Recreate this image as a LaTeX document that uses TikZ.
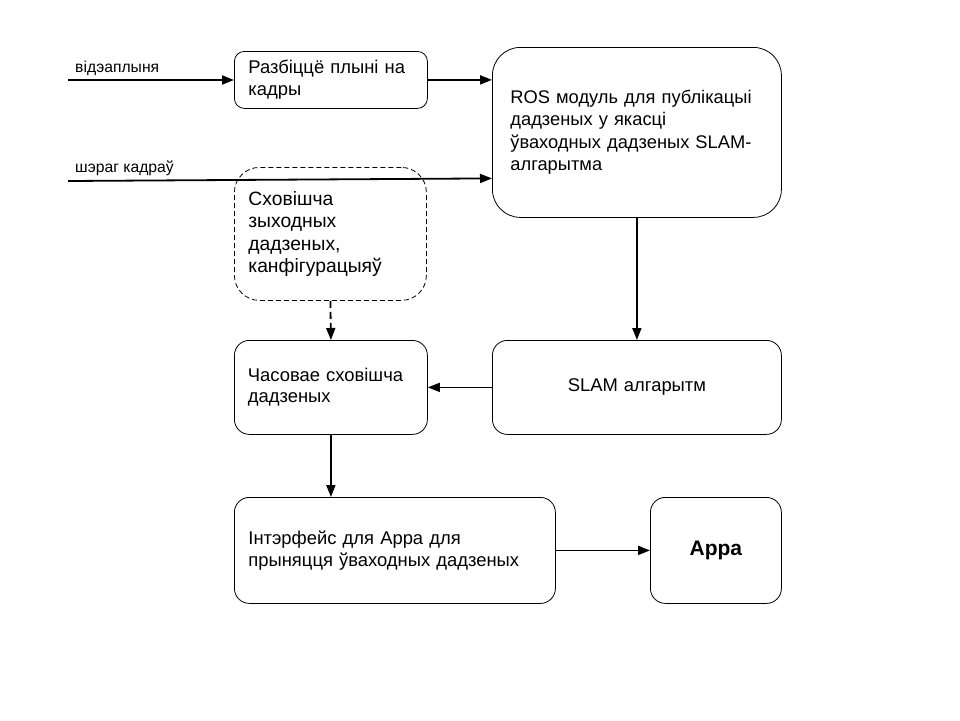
\documentclass[tikz,border=0pt]{standalone}
\usepackage{fontspec}
\setmainfont{Liberation Sans}
\usetikzlibrary{arrows.meta,calc}
\begin{document}
\begin{tikzpicture}[x=1pt,y=-1pt,
  box/.style={draw, line width=0.8pt, anchor=north west, align=left, inner xsep=14pt,
    font=\fontsize{18.4}{21.5}\selectfont},
  arr/.style={line width=1.8pt, -{Triangle[length=12pt,width=9pt]}},
  lbl/.style={anchor=base west, inner sep=0pt, font=\fontsize{15.7}{18}\selectfont}]
\useasboundingbox (0,0) rectangle (960,720);
\node[box, rounded corners=10pt, minimum width=193pt, minimum height=57pt, text width=165pt] (split) at (234,51) {Разбіццё плыні на\\кадры};
\node[box, font=\fontsize{18.3}{22.5}\selectfont, rounded corners=28pt, minimum width=289pt, minimum height=170pt, text width=253pt, inner xsep=18pt] (ros) at (492,47) {ROS модуль для публікацыі\\дадзеных у якасці\\ўваходных дадзеных SLAM-\\алгарытма};
\node[box, font=\fontsize{19.3}{22.5}\selectfont, dash pattern=on 5pt off 3pt, rounded corners=25pt, minimum width=192pt, minimum height=133pt, text width=164pt] (store) at (234,167) {Сховішча\\зыходных\\дадзеных,\\канфігурацыяў};
\node[box, rounded corners=15pt, minimum width=193pt, minimum height=94pt, text width=166pt, inner xsep=13pt] (tmp) at (234,340) {Часовае сховішча\\дадзеных};
\node[box, rounded corners=15pt, minimum width=289pt, minimum height=94pt, text width=251pt, align=center] (slam) at (492,340) {SLAM алгарытм};
\node[box, rounded corners=15pt, minimum width=321pt, minimum height=106pt, text width=293pt] (iface) at (234,497) {Інтэрфейс для Appa для\\прыняцця ўваходных дадзеных};
\node[box, rounded corners=15pt, minimum width=131pt, minimum height=106pt, text width=103pt, align=center, font=\fontsize{21}{24}\selectfont\bfseries] (appa) at (650,497) {Appa};
\node[lbl] (l1) at (75,72) {відэаплыня};
\node[lbl] (l2) at (75,172) {шэраг кадраў};
\coordinate (in1) at (68,80);
\coordinate (in2) at (68,181);
\draw[arr] (in1) -- (in1 -| split.west);
\draw[arr] (split.east) -- (split.east -| ros.west);
\draw[arr] (in2) -- ([yshift=-46pt]ros.west);
\draw[arr] (ros.south) -- (slam.north);
\draw[arr, dash pattern=on 7pt off 4pt] (store.south) -- (tmp.north);
\draw[arr] (slam.west) -- (tmp.east);
\draw[arr] (tmp.south) -- (tmp.south |- iface.north);
\draw[arr] (iface.east) -- (appa.west);
\end{tikzpicture}
\end{document}
